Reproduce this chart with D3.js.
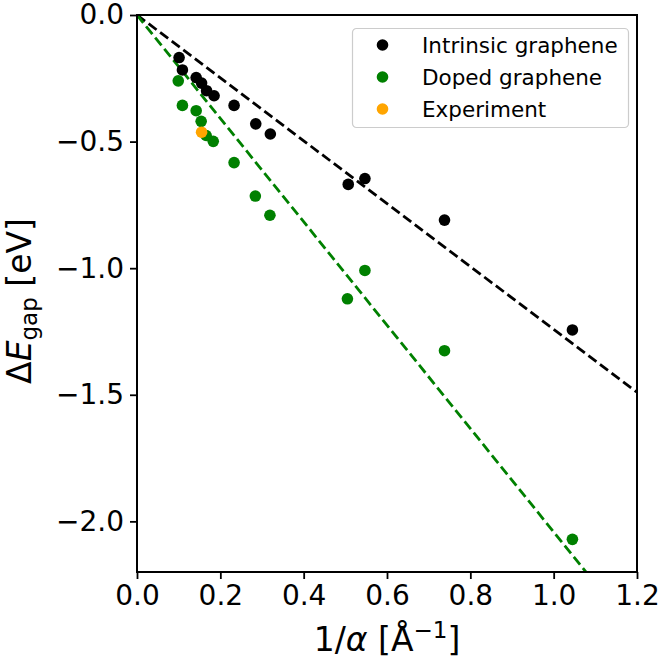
<!DOCTYPE html>
<html>
<head>
<meta charset="utf-8">
<script src="https://cdn.jsdelivr.net/npm/d3@7"></script>
<style>
  body { margin: 0; background: #fff; }
  svg { font-family: "DejaVu Sans", sans-serif; }
</style>
</head>
<body>
<div id="chart-container"></div>
<script>
// Intrinsic graphene points
const intrinsicX = [0.101, 0.109, 0.142, 0.155, 0.167, 0.185, 0.233, 0.285, 0.320, 0.507, 0.547, 0.738, 1.045];
const intrinsicY = [-0.168, -0.217, -0.247, -0.269, -0.299, -0.319, -0.357, -0.430, -0.470, -0.669, -0.646, -0.810, -1.244];

// Doped graphene points
const dopedX = [0.099, 0.109, 0.142, 0.154, 0.166, 0.183, 0.233, 0.284, 0.319, 0.505, 0.547, 0.738, 1.045];
const dopedY = [-0.260, -0.357, -0.378, -0.420, -0.476, -0.499, -0.583, -0.715, -0.791, -1.121, -1.009, -1.326, -2.071];

// Experiment
const expX = [0.155];
const expY = [-0.463];

// Linear fits (through the origin), endpoints
const fitX = [0, 1.2];
const intrinsicFit = [0, -1.49];
const dopedFit = [0, -2.45];

const xTicks = [0, 0.2, 0.4, 0.6, 0.8, 1.0, 1.2];
const yTicks = [0, -0.5, -1.0, -1.5, -2.0];

const seriesNames = ["Intrinsic graphene", "Doped graphene", "Experiment"];
const seriesColors = ["black", "green", "orange"];

// Set dimensions and margins for the chart
const margin = { top: 15, right: 24, bottom: 88, left: 137 };
const width = 661 - margin.left - margin.right;
const height = 660 - margin.top - margin.bottom;

const x = d3.scaleLinear().domain([0, 1.2]).range([0, width]);
const y = d3.scaleLinear().domain([-2.2, 0]).range([height, 0]);

const svg = d3.select("#chart-container")
    .append("svg")
    .attr("width", width + margin.left + margin.right)
    .attr("height", height + margin.top + margin.bottom)
    .append("g")
    .attr("transform", `translate(${margin.left},${margin.top})`);

svg.append("clipPath")
    .attr("id", "plot-clip")
    .append("rect")
    .attr("width", width)
    .attr("height", height);

const fmt = d => d3.format(".1f")(d).replace("-", "\u2212");

// Axes
const xAxis = svg.append("g")
    .attr("transform", `translate(0,${height})`)
    .call(d3.axisBottom(x).tickValues(xTicks).tickFormat(fmt).tickSize(7).tickPadding(6));

const yAxis = svg.append("g")
    .call(d3.axisLeft(y).tickValues(yTicks).tickFormat(fmt).tickSize(7).tickPadding(6));

[xAxis, yAxis].forEach(a => {
    a.select(".domain").remove();
    a.selectAll(".tick line").attr("stroke", "black").attr("stroke-width", 1.8);
    a.selectAll(".tick text")
        .attr("fill", "black")
        .attr("font-size", "28px")
        .attr("font-family", "DejaVu Sans");
});

// Fit lines
const fitLine = d3.line()
    .x(d => x(d[0]))
    .y(d => y(d[1]));

const fits = [
    { values: intrinsicFit, color: "black" },
    { values: dopedFit, color: "green" }
];

svg.append("g")
    .attr("clip-path", "url(#plot-clip)")
    .selectAll("path")
    .data(fits)
    .join("path")
    .attr("fill", "none")
    .attr("stroke", d => d.color)
    .attr("stroke-width", 2.8)
    .attr("stroke-dasharray", "10,4.5")
    .attr("d", d => fitLine(fitX.map((v, i) => [v, d.values[i]])));

// Scatter points
const groups = [
    { xs: intrinsicX, ys: intrinsicY, color: "black" },
    { xs: dopedX, ys: dopedY, color: "green" },
    { xs: expX, ys: expY, color: "orange" }
];

groups.forEach(g => {
    svg.append("g")
        .selectAll("circle")
        .data(g.xs.map((v, i) => [v, g.ys[i]]))
        .join("circle")
        .attr("cx", d => x(d[0]))
        .attr("cy", d => y(d[1]))
        .attr("r", 5.8)
        .attr("fill", g.color);
});

// Frame
svg.append("rect")
    .attr("width", width)
    .attr("height", height)
    .attr("fill", "none")
    .attr("stroke", "black")
    .attr("stroke-width", 2);

// Legend
const legend = svg.append("g")
    .attr("transform", `translate(${352.5 - margin.left},${28.5 - margin.top})`);

legend.append("rect")
    .attr("width", 276)
    .attr("height", 99)
    .attr("rx", 4)
    .attr("fill", "white")
    .attr("fill-opacity", 0.8)
    .attr("stroke", "#cccccc")
    .attr("stroke-width", 1.2);

seriesNames.forEach((name, i) => {
    legend.append("circle")
        .attr("cx", 30)
        .attr("cy", 16.5 + i * 32)
        .attr("r", 5.8)
        .attr("fill", seriesColors[i]);
    legend.append("text")
        .attr("x", 69.5)
        .attr("y", 24.2 + i * 32)
        .attr("font-size", "21.5px")
        .attr("fill", "black")
        .text(name);
});

// Axis labels
const xLabel = svg.append("text")
    .attr("x", width / 2)
    .attr("y", height + 79)
    .attr("text-anchor", "middle")
    .attr("font-size", "33px")
    .attr("fill", "black");
xLabel.append("tspan").text("1/");
xLabel.append("tspan").attr("font-style", "italic").text("\u03b1");
xLabel.append("tspan").text(" [\u00c5");
xLabel.append("tspan").attr("font-size", "23px").attr("dy", -13).text("\u22121");
xLabel.append("tspan").attr("dy", 13).text("]");

const yLabel = svg.append("text")
    .attr("transform", `translate(${31 - margin.left},${(205 + 397) / 2 - margin.top}) rotate(-90)`)
    .attr("text-anchor", "middle")
    .attr("font-size", "33px")
    .attr("fill", "black");
yLabel.append("tspan").text("\u0394");
yLabel.append("tspan").attr("font-style", "italic").text("E");
yLabel.append("tspan").attr("font-size", "23px").attr("dy", 6).text("gap");
yLabel.append("tspan").attr("dy", -6).text(" [eV]");
</script>
</body>
</html>
